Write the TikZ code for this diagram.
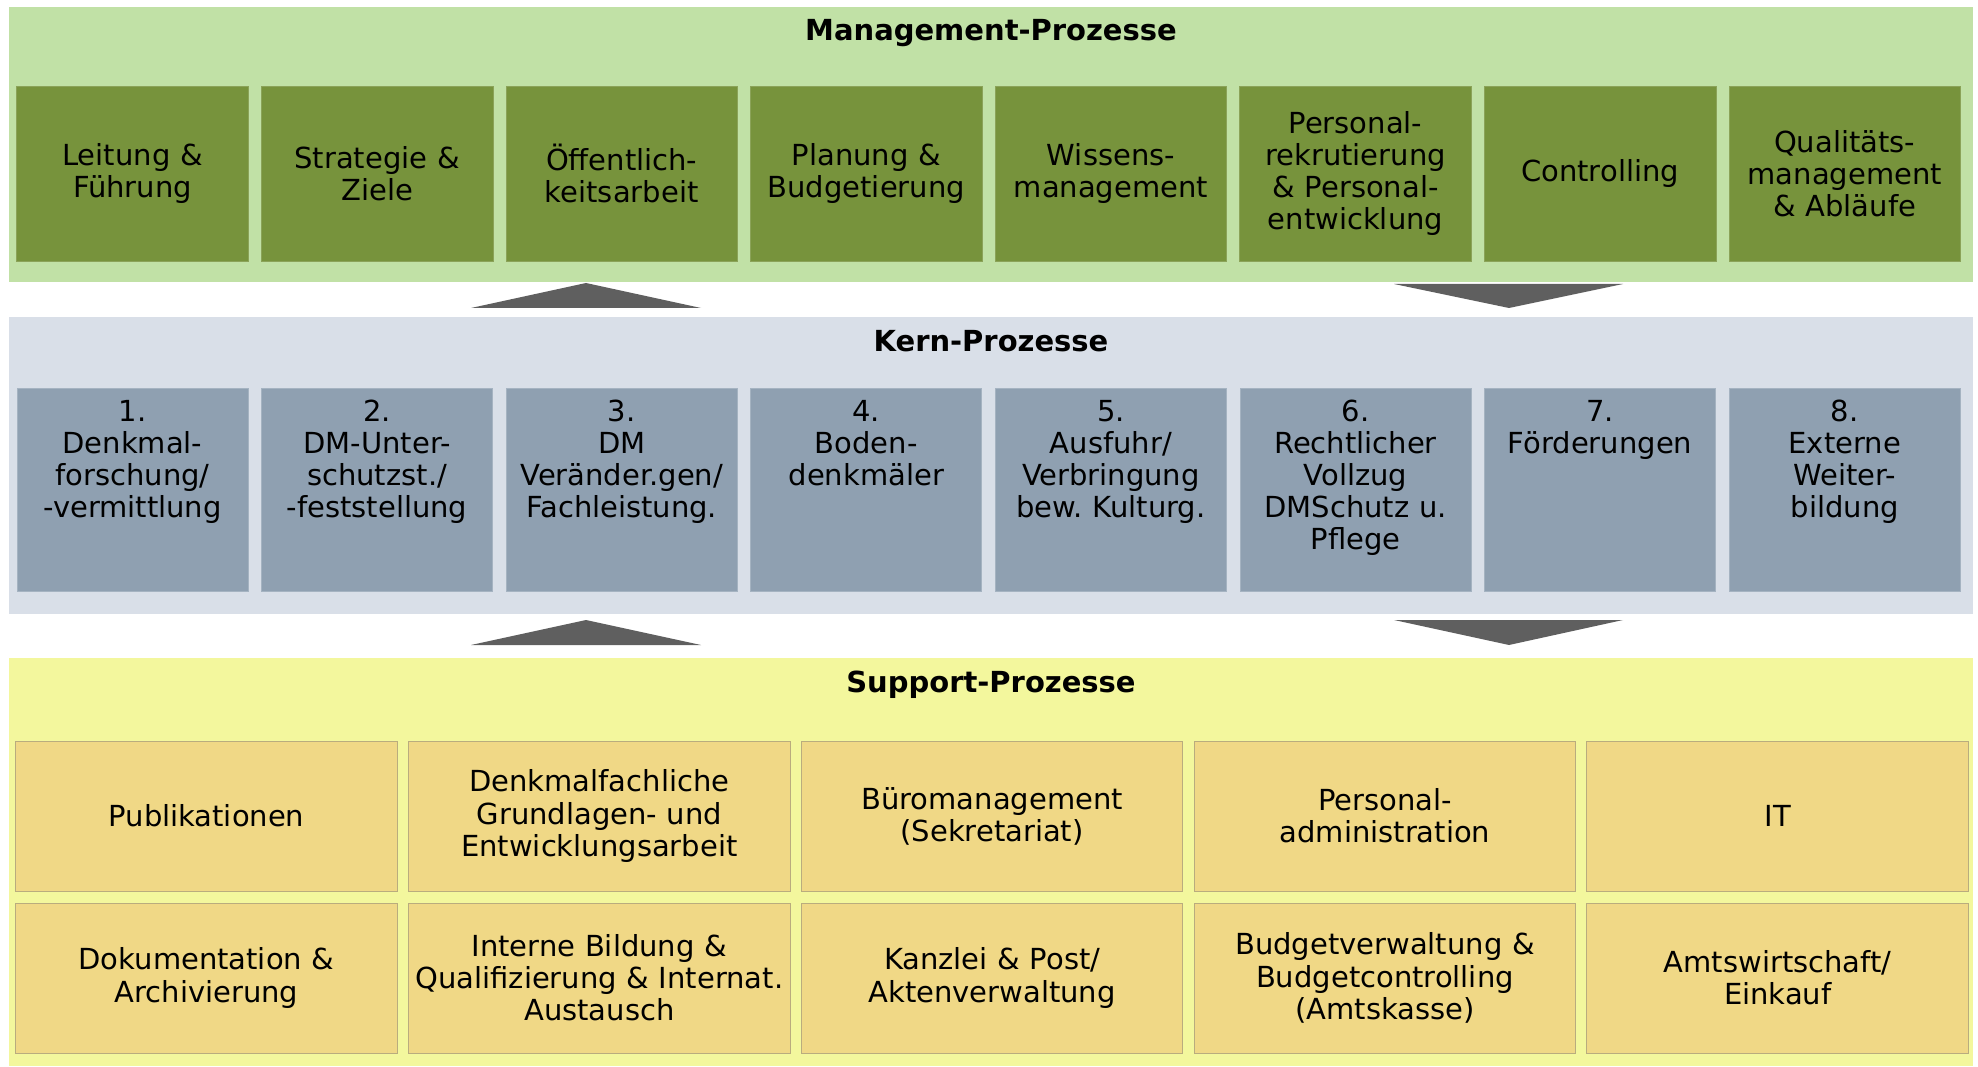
\documentclass[tikz,border=0pt]{standalone}
\usepackage{fontspec}
\setmainfont{DejaVu Sans}
\frenchspacing

\definecolor{mgmtband}{HTML}{C1E1A6}
\definecolor{mgmtfill}{HTML}{77933C}
\definecolor{kernband}{HTML}{D9DFE8}
\definecolor{kernfill}{HTML}{8FA0B1}
\definecolor{suppband}{HTML}{F3F79D}
\definecolor{suppfill}{HTML}{F0D886}
\definecolor{arrowgrey}{HTML}{5F5F5F}

\tikzset{
  band/.style={anchor=north west,inner sep=0pt,minimum width=39.28cm},
  title/.style={font=\fontsize{16.5}{18.3}\selectfont\bfseries},
  mgmtbox/.style={fill=mgmtfill,draw=mgmtfill!85!white,line width=0.4pt,
    minimum width=4.62cm,minimum height=3.5cm,text width=4.4cm,align=center},
  kernbox/.style={fill=kernfill,draw=kernfill!80!white,line width=0.4pt,
    minimum width=4.62cm,minimum height=4.06cm},
  kerntext/.style={anchor=north,yshift=-0.12cm,text width=4.4cm,align=center},
  suppbox/.style={fill=suppfill,draw=suppfill!70!black!80,line width=0.5pt,
    minimum width=7.62cm,minimum height=3cm,text width=7.4cm,align=center},
  pointer/.style={fill=arrowgrey}
}

\begin{document}
\begin{tikzpicture}[x=0.02cm,y=-0.02cm,font=\fontsize{16.5}{18.3}\selectfont]
\useasboundingbox (0,0) rectangle (1978,1067);

% the three layers
\node[band,fill=mgmtband,minimum height=5.5cm] (mgmt) at (9,7) {};
\node[band,fill=kernband,minimum height=5.94cm] (kern) at (9,317) {};
\node[band,fill=suppband,minimum height=8.16cm] (supp) at (9,658) {};

\node[title] (mgmttitle) at (991,33) {Management-Prozesse};
\node[title] (kerntitle) at (991,341) {Kern-Prozesse};
\node[title] (supptitle) at (991,685) {Support-Prozesse};

% management
\begin{scope}[every node/.style={mgmtbox}]
  \foreach \txt [count=\i] in {{Leitung \&\\Führung},{Strategie \&\\Ziele},
      {Öffentlich-\\keitsarbeit},{Planung \&\\Budgetierung},{Wissens-\\management},
      {Personal-\\rekrutierung\\\& Personal-\\entwicklung},{Controlling},
      {Qualitäts-\\management\\\& Abläufe}}
    \node (m\i) at ({17+115.5+(\i-1)*244.6},173.5) {\txt};
\end{scope}

% core processes, text at the top of each box
\foreach \txt [count=\i] in {{1.\\Denkmal-\\forschung/\\-vermittlung},
    {2.\\DM-Unter-\\schutzst./\\-feststellung},{3.\\DM\\Veränder.gen/\\Fachleistung.},
    {4.\\Boden-\\denkmäler},{5.\\Ausfuhr/\\Verbringung\\bew. Kulturg.},
    {6.\\Rechtlicher\\Vollzug\\DMSchutz u.\\Pflege},{7.\\Förderungen},
    {8.\\Externe\\Weiter-\\bildung}}
{
  \node[kernbox] (k\i) at ({17+115.5+(\i-1)*244.6},489.5) {};
  \node[kerntext] (kt\i) at (k\i.north) {\txt};
}

% support
\begin{scope}[every node/.style={suppbox}]
  \foreach \txt [count=\i] in {{Publikationen},
      {Denkmalfachliche\\Grundlagen- und\\Entwicklungsarbeit},
      {Büromanagement\\(Sekretariat)},{Personal-\\administration},{IT}}
    \node (s\i) at ({16+190.5+(\i-1)*392.8},816) {\txt};
  \foreach \txt [count=\i from 6] in {{Dokumentation \&\\Archivierung},
      {Interne Bildung \&\\Qualifizierung \& Internat.\\Austausch},
      {Kanzlei \& Post/\\Aktenverwaltung},
      {Budgetverwaltung \&\\Budgetcontrolling\\(Amtskasse)},
      {Amtswirtschaft/\\Einkauf}}
    \node (s\i) at ({16+190.5+(\i-6)*392.8},978) {\txt};
\end{scope}

% flow between the layers
\fill[pointer] (471,308) -- (586,283) -- (701,308) -- cycle;
\fill[pointer] (1394,284) -- (1623,284) -- (1509,308) -- cycle;
\fill[pointer] (471,645) -- (586,620) -- (701,645) -- cycle;
\fill[pointer] (1394,620) -- (1623,620) -- (1509,645) -- cycle;
\end{tikzpicture}
\end{document}
